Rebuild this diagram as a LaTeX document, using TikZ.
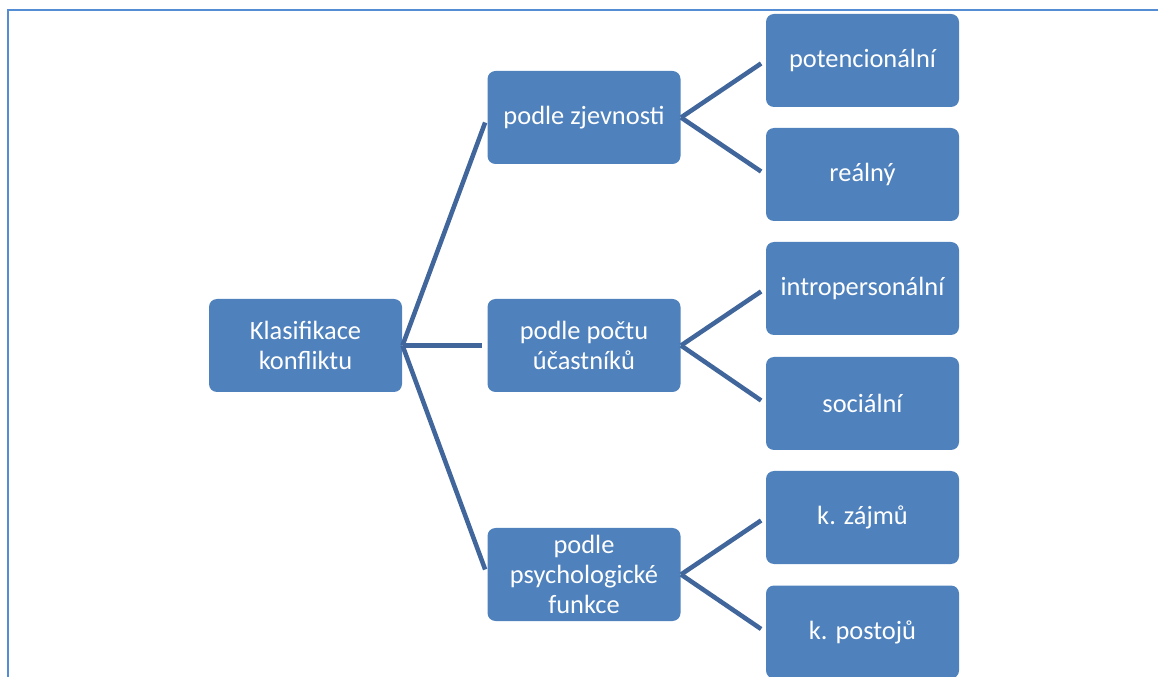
\documentclass[tikz,border=0pt]{standalone}
\definecolor{myblue}{RGB}{79, 129, 189}
\definecolor{mydarkblue}{RGB}{64, 102, 155}
\definecolor{myframe}{RGB}{84, 141, 212}
\usepackage{fontspec}
\setmainfont{Carlito}
\usepackage{tikz}
\tikzset{every picture/.style={line width=0.75pt}}
\tikzset{
  klbox/.style={fill=myblue, rounded corners=6pt, minimum width=144.75pt, minimum height=69.75pt,
    inner sep=0.75pt, text=white, align=center, font=\fontsize{19.8}{22.2}\selectfont},
  klline/.style={draw=mydarkblue, line width=3.4pt, shorten >=4pt}
}

\begin{document}
\begin{tikzpicture}[x=0.75pt,y=0.75pt,yscale=-1,xscale=1]
\useasboundingbox (0,0) rectangle (1158,677);

%Frame
\draw [myframe, line width=1.5pt] (7.5,677) -- (7.5,10.5) -- (1158,10.5) ;

%Shape: Rounded Rect [id:root]
\node [klbox] (root) at (305.5,345.5) {Klasifikace\\konfliktu};

%Shape: Rounded Rect [id:level 1]
\node [klbox] (zjev) at (584,117.5) {podle zjevnosti};
\node [klbox] (pocet) at (584,345.5) {podle počtu\\účastníků};
\node [klbox] (psych) at (584,574.5) {podle\\psychologické\\funkce};

%Shape: Rounded Rect [id:level 2]
\node [klbox] (poten) at (862.5,60.5) {potencionální};
\node [klbox] (real) at (862.5,174.5) {reálný};
\node [klbox] (intra) at (862.5,288.5) {intropersonální};
\node [klbox] (soc) at (862.5,403.5) {sociální};
\node [klbox] (zajem) at (862.5,517.5) {k. zájmů};
\node [klbox] (postoj) at (862.5,632) {k. postojů};

%Straight Lines
\draw [klline] (root.east) -- (zjev.west) ;
\draw [klline] (root.east) -- (pocet.west) ;
\draw [klline] (root.east) -- (psych.west) ;
\draw [klline] (zjev.east) -- (poten.west) ;
\draw [klline] (zjev.east) -- (real.west) ;
\draw [klline] (pocet.east) -- (intra.west) ;
\draw [klline] (pocet.east) -- (soc.west) ;
\draw [klline] (psych.east) -- (zajem.west) ;
\draw [klline] (psych.east) -- (postoj.west) ;

\end{tikzpicture}
\end{document}
